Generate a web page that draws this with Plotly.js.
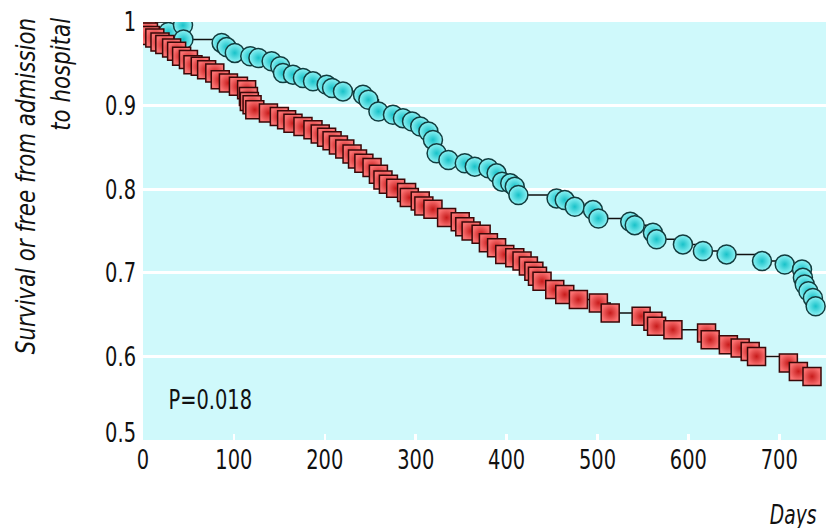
<!DOCTYPE html>
<html>
<head>
<meta charset="utf-8">
<script src="https://cdn.plot.ly/plotly-3.0.1.min.js"></script>
<style>html,body{margin:0;padding:0;background:#fff;}#chart{width:826px;height:528px;}</style>
</head>
<body>
<div id="chart"></div>
<script>
// Days and survival values
const cyanDays = [0, 28, 44, 44.5, 86.5, 92, 101, 118, 127, 141.5, 151, 154, 165, 176, 187, 202, 208, 220, 242, 248, 259, 275, 286, 296, 305, 314, 319, 323, 336, 354, 365, 380, 389, 395, 404, 409, 413, 455, 464, 475, 495, 501, 536, 541, 561, 565, 594, 616, 642, 681, 706, 725, 726, 728, 732, 737, 740];
const cyanSurv = [1.0, 0.988, 0.996, 0.979, 0.975, 0.970, 0.963, 0.959, 0.957, 0.953, 0.947, 0.939, 0.937, 0.933, 0.929, 0.925, 0.921, 0.917, 0.913, 0.907, 0.893, 0.889, 0.885, 0.881, 0.875, 0.869, 0.859, 0.843, 0.835, 0.831, 0.827, 0.825, 0.819, 0.809, 0.807, 0.803, 0.793, 0.789, 0.787, 0.779, 0.775, 0.765, 0.761, 0.757, 0.748, 0.740, 0.734, 0.726, 0.722, 0.714, 0.710, 0.704, 0.694, 0.686, 0.678, 0.670, 0.660];

const redDays = [0, 2, 4, 6, 8, 13, 18.7, 24, 31.5, 37, 42.5, 50, 55, 63, 70, 79, 85, 94, 105, 114, 116, 117, 120, 123, 138, 150, 158, 165, 176, 187, 195, 202, 208, 215, 222, 230, 236, 243, 252, 259, 264, 270, 278, 290, 293, 305, 309, 319, 334, 349, 354, 361, 372, 380, 389, 398, 409, 417, 424, 430, 434, 439, 453, 464, 479, 501, 514, 548, 561, 565, 583, 620, 624, 644, 657, 668, 675, 710, 721, 736];
const redSurv = [1.0, 0.996, 0.992, 0.988, 0.984, 0.981, 0.976, 0.973, 0.969, 0.965, 0.959, 0.955, 0.949, 0.947, 0.943, 0.939, 0.931, 0.927, 0.923, 0.919, 0.911, 0.905, 0.901, 0.895, 0.891, 0.887, 0.883, 0.879, 0.875, 0.871, 0.866, 0.862, 0.858, 0.853, 0.848, 0.842, 0.836, 0.831, 0.826, 0.818, 0.811, 0.806, 0.801, 0.796, 0.790, 0.786, 0.780, 0.776, 0.766, 0.761, 0.755, 0.750, 0.746, 0.736, 0.730, 0.722, 0.718, 0.714, 0.708, 0.702, 0.696, 0.690, 0.680, 0.674, 0.668, 0.664, 0.652, 0.648, 0.642, 0.636, 0.632, 0.628, 0.620, 0.614, 0.610, 0.606, 0.600, 0.592, 0.582, 0.576];

const xTicks = [0, 100, 200, 300, 400, 500, 600, 700];
const yTicks = [0.5, 0.6, 0.7, 0.8, 0.9, 1];
const yTickText = ['0.5', '0.6', '0.7', '0.8', '0.9', '1'];

const FONT = '"DejaVu Sans Condensed", "DejaVu Sans", sans-serif';
const SQUEEZE = 0.8;        // narrow the glyphs to mimic a condensed face
const TITLE_SQUEEZE = 0.88;

const traces = [
  {
    x: cyanDays, y: cyanSurv, type: 'scatter', mode: 'lines+markers',
    line: {shape: 'hv', color: '#111', width: 1.5},
    marker: {symbol: 'circle', size: 19, color: '#8ff3f5',
             gradient: {type: 'radial', color: '#19c2c9'},
             line: {color: '#123c3e', width: 1.5}},
    hoverinfo: 'skip', showlegend: false
  },
  {
    x: redDays, y: redSurv, type: 'scatter', mode: 'lines+markers',
    line: {shape: 'hv', color: '#111', width: 1.5},
    marker: {symbol: 'square', size: 18, color: '#f97070',
             gradient: {type: 'radial', color: '#c81c1c'},
             line: {color: '#3a0808', width: 1.5}},
    hoverinfo: 'skip', showlegend: false
  }
];

const layout = {
  width: 826, height: 528,
  margin: {l: 143, r: 0, t: 22, b: 88, pad: 0},
  paper_bgcolor: '#ffffff',
  plot_bgcolor: '#cff9fb',
  font: {family: FONT, size: 27, color: '#111'},
  xaxis: {
    range: [0, 751.4], tickvals: xTicks, ticktext: xTicks.map(String),
    ticks: 'inside', ticklen: 6, tickwidth: 2.5, tickcolor: '#ffffff',
    showgrid: false, zeroline: false, showline: false,
    ticklabelstandoff: 1,
    tickfont: {family: FONT, size: 27, color: '#111'}
  },
  yaxis: {
    range: [0.5, 1.0], tickvals: yTicks, ticktext: yTickText,
    ticks: '', showgrid: true, gridcolor: '#ffffff', gridwidth: 3,
    zeroline: false, showline: false,
    ticklabelstandoff: 6,
    tickfont: {family: FONT, size: 27, color: '#111'}
  },
  annotations: [
    {text: 'Survival or free from admission<br>to hospital', textangle: -90,
     xref: 'paper', yref: 'paper', x: -0.1464, y: 1.0144,
     xanchor: 'center', yanchor: 'top', align: 'right', showarrow: false,
     font: {family: FONT, size: 27, color: '#111', style: 'italic'}},
    {text: 'P=0.018', xref: 'x', yref: 'y', x: 74, y: 0.548,
     xanchor: 'center', yanchor: 'middle', showarrow: false,
     font: {family: FONT, size: 27, color: '#111'}},
    {text: 'Days', xref: 'paper', yref: 'paper', x: 0.951, y: -0.179,
     xanchor: 'center', yanchor: 'middle', showarrow: false,
     font: {family: FONT, size: 26, color: '#111', style: 'italic'}}
  ]
};

Plotly.newPlot('chart', traces, layout, {displayModeBar: false, staticPlot: true}).then(function (gd) {
  gd.querySelectorAll('.xtick text, .ytick text, .annotation-text').forEach(function (t) {
    const lines = t.querySelectorAll('tspan.line');
    const targets = lines.length ? Array.from(lines) : [t];
    const f = lines.length ? TITLE_SQUEEZE : SQUEEZE;
    targets.forEach(function (el) {
      const w = el.getComputedTextLength();
      if (w > 0) {
        el.setAttribute('textLength', (w * f).toFixed(2));
        el.setAttribute('lengthAdjust', 'spacingAndGlyphs');
      }
    });
  });
  // the lowest y label sits a little above its tick in the reference
  gd.querySelectorAll('.ytick text').forEach(function (t) {
    if (t.textContent === '0.5') {
      t.setAttribute('dy', '-7');
    }
  });
});
</script>
</body>
</html>
